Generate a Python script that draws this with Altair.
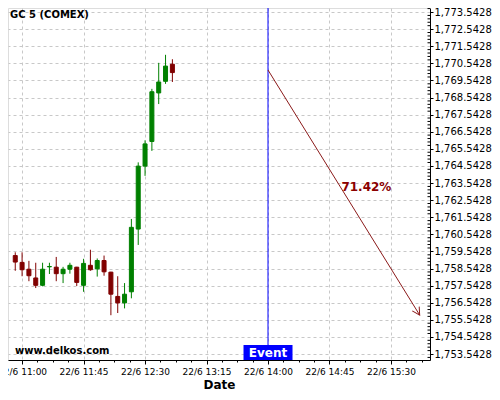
import altair as alt
import pandas as pd

# ---- data ----
times = ["10:55", "11:00", "11:05", "11:10", "11:15", "11:20", "11:25", "11:30",
         "11:35", "11:40", "11:45", "11:50", "11:55", "12:00", "12:05", "12:10",
         "12:15", "12:20", "12:25", "12:30", "12:35", "12:40", "12:45", "12:50"]
opens = [1759.30, 1758.90, 1758.50, 1757.99, 1757.56, 1758.64, 1758.62, 1758.24,
         1758.50, 1758.62, 1757.56, 1758.73, 1758.52, 1759.01, 1758.33, 1756.91,
         1756.53, 1757.18, 1760.85, 1764.53, 1765.97, 1768.81, 1769.49, 1770.49]
closes = [1758.92, 1758.47, 1758.12, 1757.56, 1758.50, 1758.66, 1758.24, 1758.50,
          1758.73, 1757.73, 1758.84, 1758.47, 1759.01, 1758.35, 1757.04, 1756.53,
          1757.04, 1760.95, 1764.53, 1765.83, 1768.88, 1769.45, 1770.38, 1770.00]
highs = [1759.49, 1759.49, 1758.99, 1758.88, 1758.88, 1758.88, 1759.22, 1758.64,
         1758.88, 1758.64, 1759.11, 1759.64, 1759.13, 1759.30, 1758.35, 1758.09,
         1757.69, 1761.44, 1764.75, 1766.04, 1769.05, 1770.57, 1771.04, 1770.78]
lows = [1758.41, 1758.09, 1757.80, 1757.40, 1757.50, 1758.22, 1757.80, 1757.69,
        1758.24, 1757.52, 1757.18, 1758.41, 1758.07, 1758.12, 1755.81, 1755.94,
        1756.21, 1756.80, 1759.92, 1763.96, 1765.42, 1768.16, 1769.34, 1769.45]

event_time = ["14:00"]
event_label = ["Event"]
arrow_times = ["14:00", "15:51"]
arrow_values = [1770.15, 1755.82]
pct_label = ["71.42%"]
pct_time = ["15:12"]
pct_value = [1763.33]
event_box_top = [1754.07]
event_text_value = [1753.60]

x_major = ["11:00", "11:45", "12:30", "13:15", "14:00", "14:45", "15:30"]
y_ticks = [1753.5428 + i for i in range(21)]

title_text = "GC 5 (COMEX)"
watermark = "www.delkos.com"
x_title = "Date"

X_DOMAIN = [653.35, 954.9]
Y_DOMAIN = [1753.192, 1773.777]
W, H = 422, 352


def to_min(s):
    h, m = s.split(":")
    return int(h) * 60 + int(m)


candles = pd.DataFrame({
    "t": [to_min(s) for s in times],
    "open": opens, "close": closes, "high": highs, "low": lows,
})
candles["dir"] = ["up" if c >= o else "down" for o, c in zip(opens, closes)]

x_vals = [to_min(x_major[0]) + 11.25 * j for j in range(27)]
y_minor = [1753.5428 + 0.2 * k for k in range(-1, 102) if k % 5 != 0]

GRID = "#c8c8c8"
MAJOR_TEST = "(datum.value - 660) % 45 == 0"

x_axis = alt.Axis(
    values=x_vals,
    labelExpr="(" + MAJOR_TEST + ") ? '22/6 ' + floor(datum.value/60) + ':' + pad(toString(datum.value % 60), 2, '0', 'left') : ''",
    title=x_title, titleFontWeight="bold", titleFontSize=12, titleColor="black",
    titlePadding=3,
    labelFontSize=9, labelColor="black", labelPadding=3,
    labelFlush=False, labelOverlap=False,
    tickColor="black",
    tickSize={"condition": {"test": MAJOR_TEST, "value": 4}, "value": 2},
    grid=True, gridColor=GRID, gridDash=[3, 3],
    gridOpacity={"condition": {"test": MAJOR_TEST, "value": 1}, "value": 0},
    domainColor="black",
)
y_axis = alt.Axis(
    orient="right", values=y_ticks, format=",.4f", title=None,
    labelFontSize=10, labelColor="black", labelPadding=1,
    labelFlush=False, labelOverlap=False,
    tickColor="black", tickSize=3,
    grid=True, gridColor=GRID, gridDash=[3, 3],
    domainColor="black",
)

xs = alt.Scale(domain=X_DOMAIN, nice=False, zero=False)
ys = alt.Scale(domain=Y_DOMAIN, nice=False, zero=False)


def X(field):
    return alt.X(f"{field}:Q", scale=xs, axis=x_axis)


def Y(field):
    return alt.Y(f"{field}:Q", scale=ys, axis=y_axis)


dir_scale = alt.Scale(domain=["up", "down"], range=["#008000", "#800000"])
color = alt.Color("dir:N", scale=dir_scale, legend=None)

wicks = alt.Chart(candles).mark_rule(strokeWidth=1).encode(
    x=X("t"), y=Y("low"), y2="high", color=color)

bodies = alt.Chart(candles).mark_bar(size=4, strokeWidth=1).encode(
    x=X("t"), y=Y("open"), y2="close", color=color,
    stroke=alt.Stroke("dir:N", scale=dir_scale, legend=None))

ev = pd.DataFrame({
    "t": [to_min(s) for s in event_time],
    "top": [Y_DOMAIN[1]], "box": event_box_top, "bottom": [Y_DOMAIN[0]],
    "tv": event_text_value, "label": event_label,
})
event_line = alt.Chart(ev).mark_rule(color="#0000ff", strokeWidth=1).encode(
    x=X("t"), y=Y("box"), y2="top")
event_box = alt.Chart(ev).mark_bar(size=49, color="#0000ff").encode(
    x=X("t"), y=Y("bottom"), y2="box")
event_text = alt.Chart(ev).mark_text(color="white", fontWeight="bold", fontSize=12,
                                     font="DejaVu Sans").encode(
    x=X("t"), y=Y("tv"), text="label:N")

arr = pd.DataFrame({"t": [to_min(s) for s in arrow_times], "v": arrow_values})
arrow_line = alt.Chart(arr).mark_line(color="#8b1a1a", strokeWidth=1).encode(
    x=X("t"), y=Y("v"))
arrow_head = alt.Chart(arr.iloc[[1]]).mark_point(
    shape="M-1,-0.55L0,0L-1,0.55", filled=False, color="#8b1a1a", strokeWidth=1,
    size=220, angle=58, opacity=1).encode(x=X("t"), y=Y("v"))

pct = pd.DataFrame({"t": [to_min(s) for s in pct_time], "v": pct_value, "label": pct_label})
pct_text = alt.Chart(pct).mark_text(color="#8b0000", fontWeight="bold", fontSize=12,
                                    font="DejaVu Sans").encode(
    x=X("t"), y=Y("v"), text="label:N")

minor = pd.DataFrame({"v": y_minor})
minor_ticks = alt.Chart(minor).mark_rule(color="black", strokeWidth=1).encode(
    x=alt.value(W - 2.5), x2=alt.value(W), y=Y("v"))

title_mark = alt.Chart(pd.DataFrame({"label": [title_text]})).mark_text(
    align="left", baseline="middle", fontWeight="bold", fontSize=10,
    font="DejaVu Sans", color="black").encode(
    x=alt.value(2), y=alt.value(7), text="label:N")
wm_mark = alt.Chart(pd.DataFrame({"label": [watermark]})).mark_text(
    align="left", baseline="middle", fontWeight="bold", fontSize=10,
    font="DejaVu Sans", color="black").encode(
    x=alt.value(7), y=alt.value(H - 9), text="label:N")

chart = alt.layer(
    wicks, bodies, event_line, event_box, event_text,
    arrow_line, arrow_head, pct_text, minor_ticks, title_mark, wm_mark,
).properties(
    width=W, height=H,
    autosize=alt.AutoSizeParams(type="none"),
    padding={"left": 0, "top": 0, "right": 62, "bottom": 32},
).configure_view(stroke=None).configure(font="DejaVu Sans")

chart.save("out.html", embed_options={"renderer": "svg", "actions": False})
